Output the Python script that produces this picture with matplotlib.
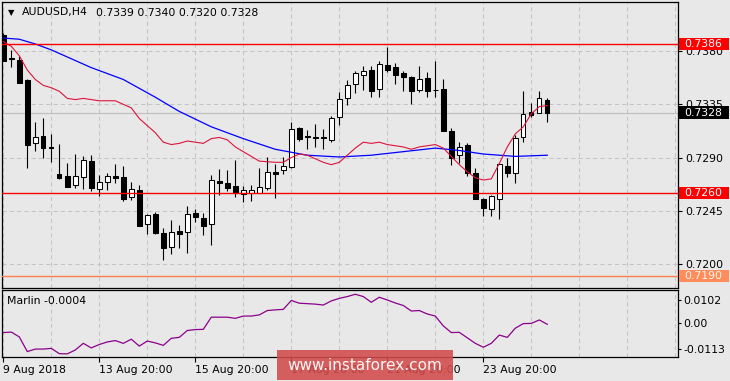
import matplotlib
matplotlib.use('Agg')
import matplotlib.pyplot as plt
from matplotlib.patches import Rectangle
from matplotlib.transforms import blended_transform_factory
import numpy as np

# ---------------- data ----------------
symbol_title = 'AUDUSD,H4'
title_ohlc = '0.7339 0.7340 0.7320 0.7328'

opens = [0.73936, 0.73738, 0.73725, 0.73556, 0.73021, 0.73083, 0.72988, 0.72762, 0.72745, 0.72666,
         0.72734, 0.72871, 0.72637, 0.72697, 0.72745, 0.72736, 0.72570, 0.72626, 0.72336, 0.72426,
         0.72263, 0.72147, 0.72280, 0.72269, 0.72434, 0.72387, 0.72336, 0.72702, 0.72683, 0.72660,
         0.72593, 0.72603, 0.72603, 0.72641, 0.72781, 0.72793, 0.72818, 0.73148, 0.73080, 0.73075,
         0.73075, 0.73046, 0.73241, 0.73401, 0.73519, 0.73601, 0.73640, 0.73477, 0.73683, 0.73663,
         0.73617, 0.73581, 0.73474, 0.73573, 0.73472, 0.73480, 0.73125, 0.72925, 0.73007, 0.72767,
         0.72550, 0.72468, 0.72553, 0.72829, 0.72767, 0.73074, 0.73283, 0.73280, 0.73390]
highs = [0.73950, 0.73809, 0.73759, 0.73560, 0.73198, 0.73232, 0.73099, 0.73015, 0.72855, 0.72930,
         0.72911, 0.72922, 0.72751, 0.72767, 0.72843, 0.72829, 0.72694, 0.72669, 0.72423, 0.72440,
         0.72303, 0.72370, 0.72333, 0.72494, 0.72466, 0.72432, 0.72753, 0.72804, 0.72795, 0.72880,
         0.72660, 0.72669, 0.72815, 0.72905, 0.72846, 0.72905, 0.73198, 0.73159, 0.73133, 0.73184,
         0.73139, 0.73254, 0.73454, 0.73556, 0.73629, 0.73674, 0.73674, 0.73716, 0.73835, 0.73697,
         0.73634, 0.73589, 0.73674, 0.73626, 0.73716, 0.73564, 0.73153, 0.73029, 0.73021, 0.72812,
         0.72559, 0.72584, 0.72857, 0.72894, 0.73091, 0.73465, 0.73359, 0.73465, 0.73400]
lows = [0.73715, 0.73668, 0.73530, 0.72810, 0.72958, 0.72899, 0.72865, 0.72717, 0.72649, 0.72641,
        0.72637, 0.72620, 0.72576, 0.72626, 0.72688, 0.72536, 0.72544, 0.72320, 0.72252, 0.72255,
        0.72037, 0.72085, 0.72134, 0.72097, 0.72358, 0.72246, 0.72164, 0.72584, 0.72618, 0.72570,
        0.72527, 0.72536, 0.72598, 0.72626, 0.72556, 0.72764, 0.72810, 0.73043, 0.72970, 0.72987,
        0.72970, 0.73035, 0.73176, 0.73342, 0.73448, 0.73471, 0.73415, 0.73415, 0.73626, 0.73525,
        0.73465, 0.73350, 0.73457, 0.73415, 0.73415, 0.73125, 0.72838, 0.72857, 0.72747, 0.72548,
        0.72409, 0.72409, 0.72384, 0.72736, 0.72688, 0.73034, 0.73241, 0.73278, 0.73200]
closes = [0.73719, 0.73733, 0.73533, 0.73007, 0.73072, 0.72984, 0.72980, 0.72730, 0.72654, 0.72745,
          0.72880, 0.72646, 0.72694, 0.72745, 0.72730, 0.72550, 0.72632, 0.72325, 0.72412, 0.72263,
          0.72139, 0.72271, 0.72257, 0.72423, 0.72401, 0.72325, 0.72708, 0.72688, 0.72646, 0.72603,
          0.72624, 0.72624, 0.72652, 0.72776, 0.72764, 0.72829, 0.73142, 0.73060, 0.73070, 0.73068,
          0.73065, 0.73232, 0.73393, 0.73511, 0.73612, 0.73632, 0.73465, 0.73691, 0.73640, 0.73601,
          0.73584, 0.73465, 0.73562, 0.73465, 0.73468, 0.73127, 0.72894, 0.72987, 0.72767, 0.72550,
          0.72477, 0.72576, 0.72846, 0.72767, 0.73066, 0.73266, 0.73260, 0.73401, 0.73280]

fast_ma_idx = [0, 1, 2, 3, 4, 5, 6, 7, 8, 9, 10, 12, 14, 15, 16, 17, 18, 19, 20, 21, 22, 23, 24,
               25, 26, 27, 28, 29, 30, 31, 32, 34, 35, 36, 37, 38, 39, 40, 41, 42, 43, 44, 45,
               46, 47, 48, 49, 50, 51, 52, 53, 54, 55, 56, 57, 58, 59, 60, 61, 62, 63, 64, 65,
               66, 67, 68]
fast_ma = [0.7388, 0.7384, 0.7376, 0.7364, 0.7356, 0.7351, 0.7349, 0.7346, 0.7340, 0.7339, 0.7340,
           0.7338, 0.7338, 0.7335, 0.7332, 0.7323, 0.7317, 0.7311, 0.7303, 0.7301, 0.7302, 0.7304,
           0.7303, 0.7302, 0.7306, 0.7307, 0.7305, 0.7299, 0.7295, 0.7291, 0.7287, 0.7286, 0.7286,
           0.7290, 0.7293, 0.7292, 0.7289, 0.7286, 0.7284, 0.7286, 0.7292, 0.7298, 0.7303, 0.7302,
           0.7303, 0.7301, 0.7300, 0.7299, 0.7297, 0.7299, 0.7300, 0.7301, 0.7298, 0.7291, 0.7284,
           0.7278, 0.7273, 0.7271, 0.7272, 0.7285, 0.7299, 0.7310, 0.7316, 0.7327, 0.7333, 0.7334]

slow_ma_idx = [0, 2, 4, 6, 8, 11, 15, 19, 22, 26, 30, 34, 38, 42, 46, 50, 54, 57, 60, 64, 68]
slow_ma = [0.7391, 0.7390, 0.7386, 0.7381, 0.7375, 0.7366, 0.7356, 0.7341, 0.7329, 0.7316, 0.7306,
           0.7297, 0.7292, 0.72905, 0.7292, 0.7295, 0.7298, 0.7296, 0.7293, 0.7291, 0.7292]

marlin = [-0.0040, -0.0038, -0.0059, -0.0123, -0.0112, -0.0112, -0.0109, -0.0132, -0.0133, -0.0116,
          -0.0087, -0.0107, -0.0092, -0.0081, -0.0075, -0.0087, -0.0069, -0.0099, -0.0077, -0.0085,
          -0.0096, -0.0065, -0.0061, -0.0031, -0.0027, -0.0026, 0.0027, 0.0027, 0.0027, 0.0022,
          0.0032, 0.0032, 0.0037, 0.0056, 0.0059, 0.0061, 0.0100, 0.0088, 0.0086, 0.0084,
          0.0080, 0.0098, 0.0109, 0.0117, 0.0127, 0.0117, 0.0092, 0.0114, 0.0102, 0.0089,
          0.0078, 0.0054, 0.0056, 0.0041, 0.0032, -0.0011, -0.0040, -0.0039, -0.0063, -0.0087,
          -0.0104, -0.0087, -0.0051, -0.0061, -0.0021, -0.0001, 0.0000, 0.0015, -0.0004]
marlin_last = '-0.0004'

x_tick_idx = [0, 12, 24, 36, 48, 60]
x_tick_labels = ['9 Aug 2018', '13 Aug 20:00', '15 Aug 20:00', '17 Aug 20:00',
                 '21 Aug 20:00', '23 Aug 20:00']
price_ticks = [0.7200, 0.7245, 0.7290, 0.7335, 0.7380]
marlin_ticks = [0.0102, 0.0, -0.0113]
marlin_tick_labels = ['0.0102', '0.00', '-0.0113']
level_values = [0.7386, 0.7260, 0.7190]
level_colors = ['#ff0000', '#ff0000', '#ff7f50']
bid_price = 0.7328

# ---------------- style ----------------
W, H = 730, 381
BG = '#e8e8e8'
GRID = '#c4c4c4'
FS = 7.8
plt.rcParams['font.family'] = ['DejaVu Sans']

fig = plt.figure(figsize=(W / 100, H / 100), dpi=100, facecolor=BG)

xl, xr = 2.3, 677.7
ax = fig.add_axes([xl / W, 1 - 288 / H, (xr - xl) / W, (288 - 2.3) / H], facecolor=BG)
ax2 = fig.add_axes([xl / W, 1 - 356.7 / H, (xr - xl) / W, (356.7 - 290) / H], facecolor=BG)

xlim = (-0.125, 84.3)
for a in (ax, ax2):
    a.set_xlim(*xlim)
    for s in a.spines.values():
        s.set_color('black')
        s.set_linewidth(0.9)
    a.set_xticks(range(0, 85, 6), minor=True)
    a.tick_params(which='minor', length=0)
    a.grid(which='both', axis='x', color=GRID, linestyle=(0, (4, 3)), linewidth=0.75, zorder=0)
    a.set_axisbelow(True)

ax.set_ylim(0.71798, 0.74212)
ax2.set_ylim(-0.01453, 0.01456)

# main axis ticks
ax.set_xticks(x_tick_idx)
ax.tick_params(axis='x', which='major', length=0, labelbottom=False)
ax.yaxis.tick_right()
ax.set_yticks(price_ticks)
ax.set_yticklabels([f'{v:.4f}' for v in price_ticks])
ax.tick_params(axis='y', length=3, width=0.8, pad=2.2, labelsize=FS, colors='black')
ax.grid(axis='y', color=GRID, linestyle=(0, (4, 3)), linewidth=0.75)

# indicator ticks
ax2.set_xticks(x_tick_idx)
ax2.set_xticklabels(x_tick_labels)
for lab in ax2.get_xticklabels():
    lab.set_ha('left')
ax2.tick_params(axis='x', which='major', length=3.5, width=0.8, pad=2.5, labelsize=FS)
ax2.yaxis.tick_right()
ax2.set_yticks(marlin_ticks)
ax2.set_yticklabels(marlin_tick_labels)
ax2.tick_params(axis='y', length=2.5, width=0.8, pad=1.5, labelsize=FS)
ax2.grid(axis='y', color=GRID, linestyle=(0, (4, 3)), linewidth=0.75)
ax2.set_yticks([0.0], minor=True)
ax2.grid(which='minor', axis='y', color=GRID, linestyle=(0, (4, 3)), linewidth=0.75)
ax2.yaxis.grid(False, which='major')
ax2.set_yticks([0.0], minor=True)
ax2.grid(which='minor', axis='y', color=GRID, linestyle=(0, (4, 3)), linewidth=0.75)

# ---------------- candles ----------------
idx = np.arange(len(opens))
o = np.array(opens); c = np.array(closes)
hi = np.array(highs); lo = np.array(lows)
up = c >= o
ax.axhline(bid_price, color='#c0c0c0', lw=0.9, zorder=1)
ax.vlines(idx, lo, hi, color='black', lw=0.8, zorder=3)
bottoms = np.minimum(o, c)
heights = np.maximum(np.abs(c - o), 0.00002)
ax.bar(idx, heights, bottom=bottoms, width=0.55,
       color=['white' if u else 'black' for u in up],
       edgecolor='black', linewidth=0.75, zorder=4)

ax.plot(slow_ma_idx, slow_ma, color='#0000ff', lw=0.9, zorder=5)
ax.plot(fast_ma_idx, fast_ma, color='#dc143c', lw=0.8, zorder=5)

for v, col in zip(level_values, level_colors):
    ax.axhline(v, color=col, lw=1.0, zorder=6)

# price labels on the right
tr = blended_transform_factory(ax.transAxes, ax.transData)
span = xr - xl
bh = 0.00106
label_specs = [(0.7386, '#ff0000', 'white'), (bid_price, '#000000', 'white'),
               (0.7260, '#ff0000', 'white'), (0.7190, '#ff8c5a', '#fff4ec')]
for v, fc, tc in label_specs:
    ax.add_patch(Rectangle((1 + 1.5 / span, v - bh / 2), 49.5 / span, bh, transform=tr,
                           facecolor=fc, edgecolor='none', clip_on=False, zorder=8))
    ax.text(1 + 6.2 / span, v, f'{v:.4f}', transform=tr, color=tc, fontsize=FS,
            ha='left', va='center', zorder=9, clip_on=False)

# title
ax.text(5.5 / span, 1 - 10.2 / 285.7, '\u25BC', transform=ax.transAxes, fontsize=6,
        ha='left', va='center', color='black')
ax.text(19.4 / span, 1 - 10.2 / 285.7, symbol_title, transform=ax.transAxes, fontsize=FS,
        ha='left', va='center', color='black')
ax.text(93.7 / span, 1 - 10.2 / 285.7, title_ohlc, transform=ax.transAxes, fontsize=FS,
        ha='left', va='center', color='black')

# ---------------- indicator ----------------
ax2.plot(idx, marlin, color='#8b008b', lw=0.9, zorder=4)
ax2.text(5.0 / span, 1 - 11.5 / 66.7, f'Marlin {marlin_last}', transform=ax2.transAxes,
         fontsize=FS, ha='left', va='center', color='black')

# ---------------- watermark ----------------
fig.patches.append(Rectangle((277 / W, 1 - 380 / H), (453 - 277) / W, 30 / H,
                             transform=fig.transFigure, facecolor='#d24b4b', alpha=0.88,
                             edgecolor='none', zorder=10))
fig.text(365 / W, 1 - 365.5 / H, 'www.instaforex.com', color='white', fontsize=11,
         ha='center', va='center', zorder=11, alpha=0.95)

fig.savefig('out.png', dpi=100, facecolor=BG)
